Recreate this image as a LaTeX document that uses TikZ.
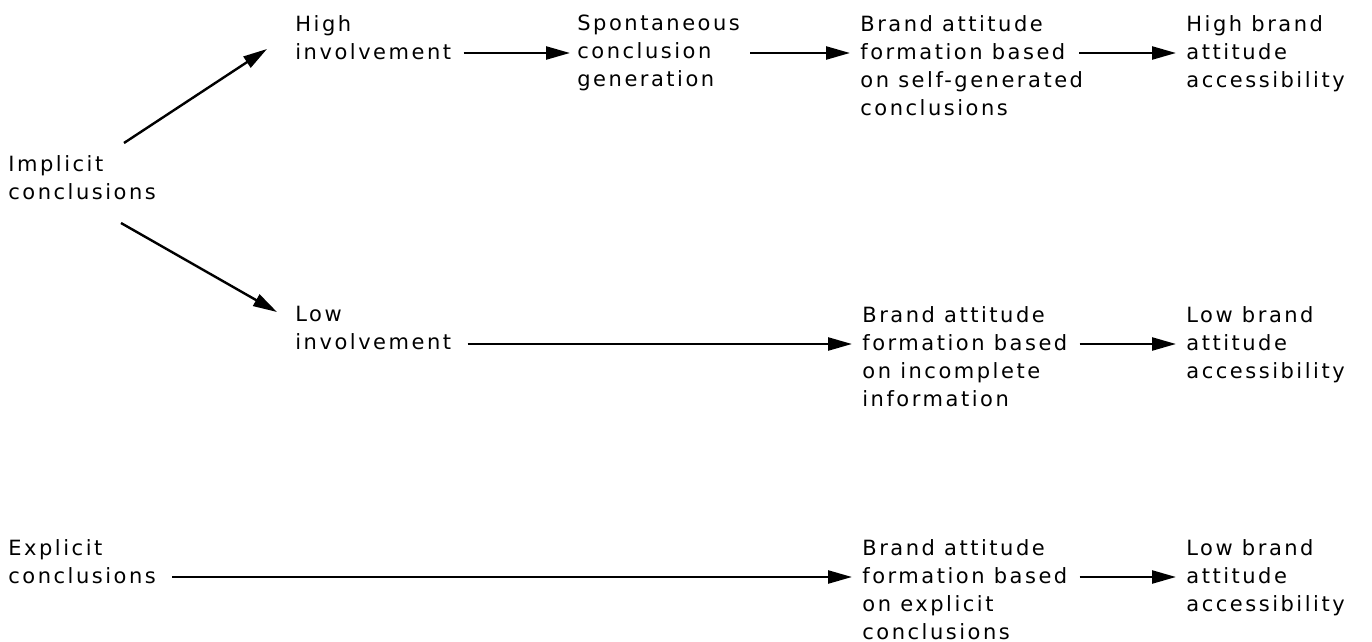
\documentclass[tikz,border=0pt]{standalone}
\usepackage{fontspec}
\setmainfont{DejaVu Sans}[LetterSpace=12]
\usetikzlibrary{arrows.meta, positioning}

\begin{document}
\begin{tikzpicture}[x=0.5pt, y=-0.5pt,
    every node/.style={font=\fontsize{10.5pt}{14pt}\selectfont},
    arr/.style = {-{Triangle[length=12pt, width=6.5pt]}, line width=1.2pt},
    txt/.style = {align=left, inner sep=0pt, anchor=north west}
]
\useasboundingbox (0,0) rectangle (1372,642);

% first column
\node (n1) [txt] at (8,155) {Implicit\\conclusions};
\node (n9) [txt] at (8,539) {Explicit\\conclusions};

% implicit, high involvement
\node (n2) [txt] at (295,15) {High\\involvement};
\node (n3) [txt] at (577,15) {Spontaneous\\conclusion\\generation};
\node (n4) [txt] at (860,15) {Brand attitude\\formation based\\on self-generated\\conclusions};
\node (n5) [txt] at (1186,15) {High brand\\attitude\\accessibility};

% implicit, low involvement
\node (n6) [txt] at (295,306) {Low\\involvement};
\node (n7) [txt] at (862,306) {Brand attitude\\formation based\\on incomplete\\information};
\node (n8) [txt] at (1186,306) {Low brand\\attitude\\accessibility};

% explicit
\node (n10) [txt] at (862,539) {Brand attitude\\formation based\\on explicit\\conclusions};
\node (n11) [txt] at (1186,539) {Low brand\\attitude\\accessibility};

\draw[arr] ([shift={(116,-12)}]n1.north west) -- ([shift={(-28,34)}]n2.north west);
\draw[arr] ([shift={(113,68)}]n1.north west) -- ([shift={(-18,6)}]n6.north west);

\draw[arr] ([shift={(12,38)}]n2.north east) -- ([shift={(-7,38)}]n3.north west);
\draw[arr] ([shift={(10,38)}]n3.north east) -- ([shift={(-10,38)}]n4.north west);
\draw[arr] ([shift={(-4,38)}]n4.north east) -- ([shift={(-10,38)}]n5.north west);

\draw[arr] ([shift={(16,38)}]n6.north east) -- ([shift={(-10,38)}]n7.north west);
\draw[arr] ([shift={(12,38)}]n7.north east) -- ([shift={(-10,38)}]n8.north west);

\draw[arr] ([shift={(16,38)}]n9.north east) -- ([shift={(-10,38)}]n10.north west);
\draw[arr] ([shift={(12,38)}]n10.north east) -- ([shift={(-10,38)}]n11.north west);

\end{tikzpicture}
\end{document}
